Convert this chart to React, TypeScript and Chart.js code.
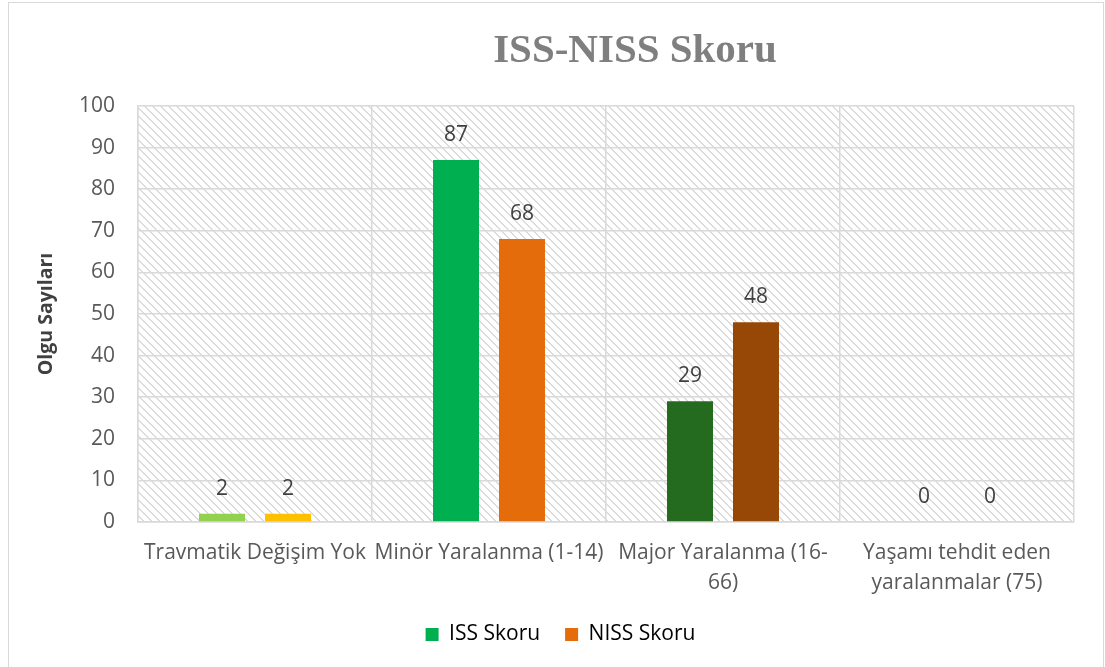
import React, { useEffect, useRef } from "react";
import { Chart, registerables } from "chart.js";

Chart.register(...registerables);

// ---- data ----
const categories: (string | string[])[] = [
  "Travmatik Değişim Yok",
  "Minör Yaralanma (1-14)",
  ["Major Yaralanma (16-", "66)"],
  ["Yaşamı tehdit eden", "yaralanmalar (75)"],
];
const seriesNames = ["ISS Skoru", "NISS Skoru"];
const issValues = [2, 87, 29, 0];
const nissValues = [2, 68, 48, 0];
const issColors = ["#92d050", "#00b050", "#246b1f", "#00b050"];
const nissColors = ["#ffc000", "#e46c0a", "#974806", "#e46c0a"];
const legendColors = ["#00b050", "#e46c0a"];
const yMin = 0;
const yMax = 100;
const yStep = 10;
const chartTitle = "ISS-NISS Skoru";
const yAxisTitle = "Olgu Sayıları";

const FONT = "'Open Sans', 'Noto Sans', sans-serif";

function makeHatch(ctx: CanvasRenderingContext2D) {
  const c = document.createElement("canvas");
  c.width = 8;
  c.height = 8;
  const g = c.getContext("2d")!;
  g.fillStyle = "#ffffff";
  g.fillRect(0, 0, 8, 8);
  g.fillStyle = "#dcdcdc";
  for (let y = 0; y < 8; y++) {
    for (let x = 0; x < 8; x++) {
      const d = (((x - y) % 8) + 8) % 8;
      if (d < 2) g.fillRect(x, y, 1, 1);
    }
  }
  return ctx.createPattern(c, "repeat");
}

const hatchPlugin = {
  id: "hatchBg",
  beforeDraw(chart: any) {
    const { ctx, chartArea } = chart;
    if (!chartArea) return;
    const p = makeHatch(ctx);
    ctx.save();
    ctx.fillStyle = p || "#f0f0f0";
    ctx.fillRect(chartArea.left, chartArea.top, chartArea.right - chartArea.left, chartArea.bottom - chartArea.top);
    ctx.restore();
  },
};

const legendShiftPlugin = {
  id: "legendShift",
  afterLayout(chart: any) {
    const lg = chart.legend;
    if (lg) {
      lg.left += 19;
      lg.right += 19;
    }
  },
};

const titlePlugin = {
  id: "customTitle",
  afterDraw(chart: any) {
    const { ctx } = chart;
    ctx.save();
    ctx.font = "bold 41px 'Liberation Serif', 'Times New Roman', serif";
    ctx.fillStyle = "#7f7f7f";
    ctx.textAlign = "center";
    ctx.textBaseline = "middle";
    ctx.fillText(chartTitle, 626, 48);
    ctx.restore();
  },
};

const valueLabelPlugin = {
  id: "valueLabels",
  afterDatasetsDraw(chart: any) {
    const { ctx } = chart;
    ctx.save();
    ctx.font = `21px ${FONT}`;
    ctx.fillStyle = "#404040";
    ctx.textAlign = "center";
    ctx.textBaseline = "middle";
    chart.data.datasets.forEach((ds: any, di: number) => {
      const meta = chart.getDatasetMeta(di);
      meta.data.forEach((el: any, i: number) => {
        ctx.fillText(String(ds.data[i]), el.x, el.y - 25);
      });
    });
    ctx.restore();
  },
};

export default function App() {
  const ref = useRef<HTMLCanvasElement>(null);

  useEffect(() => {
    if (!ref.current) return;
    const chart = new Chart(ref.current, {
      type: "bar",
      data: {
        labels: categories,
        datasets: [
          {
            label: seriesNames[0],
            data: issValues,
            backgroundColor: issColors,
            categoryPercentage: 0.564,
            barPercentage: 0.697,
          },
          {
            label: seriesNames[1],
            data: nissValues,
            backgroundColor: nissColors,
            categoryPercentage: 0.564,
            barPercentage: 0.697,
          },
        ],
      },
      options: {
        animation: false,
        responsive: false,
        devicePixelRatio: 1,
        layout: { padding: { top: 103, right: 29, bottom: 13, left: 0 } },
        plugins: {
          title: { display: false },
          tooltip: { enabled: false },
          legend: {
            position: "bottom",
            labels: {
              boxWidth: 13,
              boxHeight: 13,
              padding: 25,
              color: "#595959",
              font: { family: FONT, size: 21 },
              generateLabels(chart: any) {
                return chart.data.datasets.map((ds: any, i: number) => ({
                  text: ds.label,
                  fillStyle: legendColors[i],
                  strokeStyle: legendColors[i],
                  lineWidth: 0,
                  hidden: false,
                  datasetIndex: i,
                }));
              },
            },
          },
        },
        scales: {
          x: {
            grid: { color: "#d9d9d9", lineWidth: 1.5, drawTicks: false, offset: true },
            border: { color: "#d9d9d9", width: 1.5 },
            ticks: {
              color: "#595959",
              font: { family: FONT, size: 21, lineHeight: 1.43 },
              padding: 16,
              maxRotation: 0,
              autoSkip: false,
            },
            afterFit(scale: any) {
              scale.height = 77;
            },
          },
          y: {
            min: yMin,
            max: yMax,
            grid: { color: "#d9d9d9", lineWidth: 1.5, drawTicks: false },
            border: { color: "#d9d9d9", width: 1.5 },
            ticks: {
              stepSize: yStep,
              color: "#595959",
              font: { family: FONT, size: 21 },
              padding: 23,
            },
            title: {
              display: true,
              text: yAxisTitle,
              color: "#404040",
              font: { family: FONT, size: 19.5, weight: "bold" },
              padding: { top: 26, bottom: 0 },
            },
            afterFit(scale: any) {
              scale.width = 129;
            },
          },
        },
      },
      plugins: [hatchPlugin, legendShiftPlugin, valueLabelPlugin, titlePlugin],
    } as any);
    return () => chart.destroy();
  }, []);

  return (
    <div
      style={{
        position: "fixed",
        left: 8,
        top: 2,
        width: 1094,
        height: 680,
        border: "1px solid #d9d9d9",
        background: "#ffffff",
      }}
    >
      <canvas ref={ref} width={1094} height={665} style={{ display: "block" }} />
    </div>
  );
}
